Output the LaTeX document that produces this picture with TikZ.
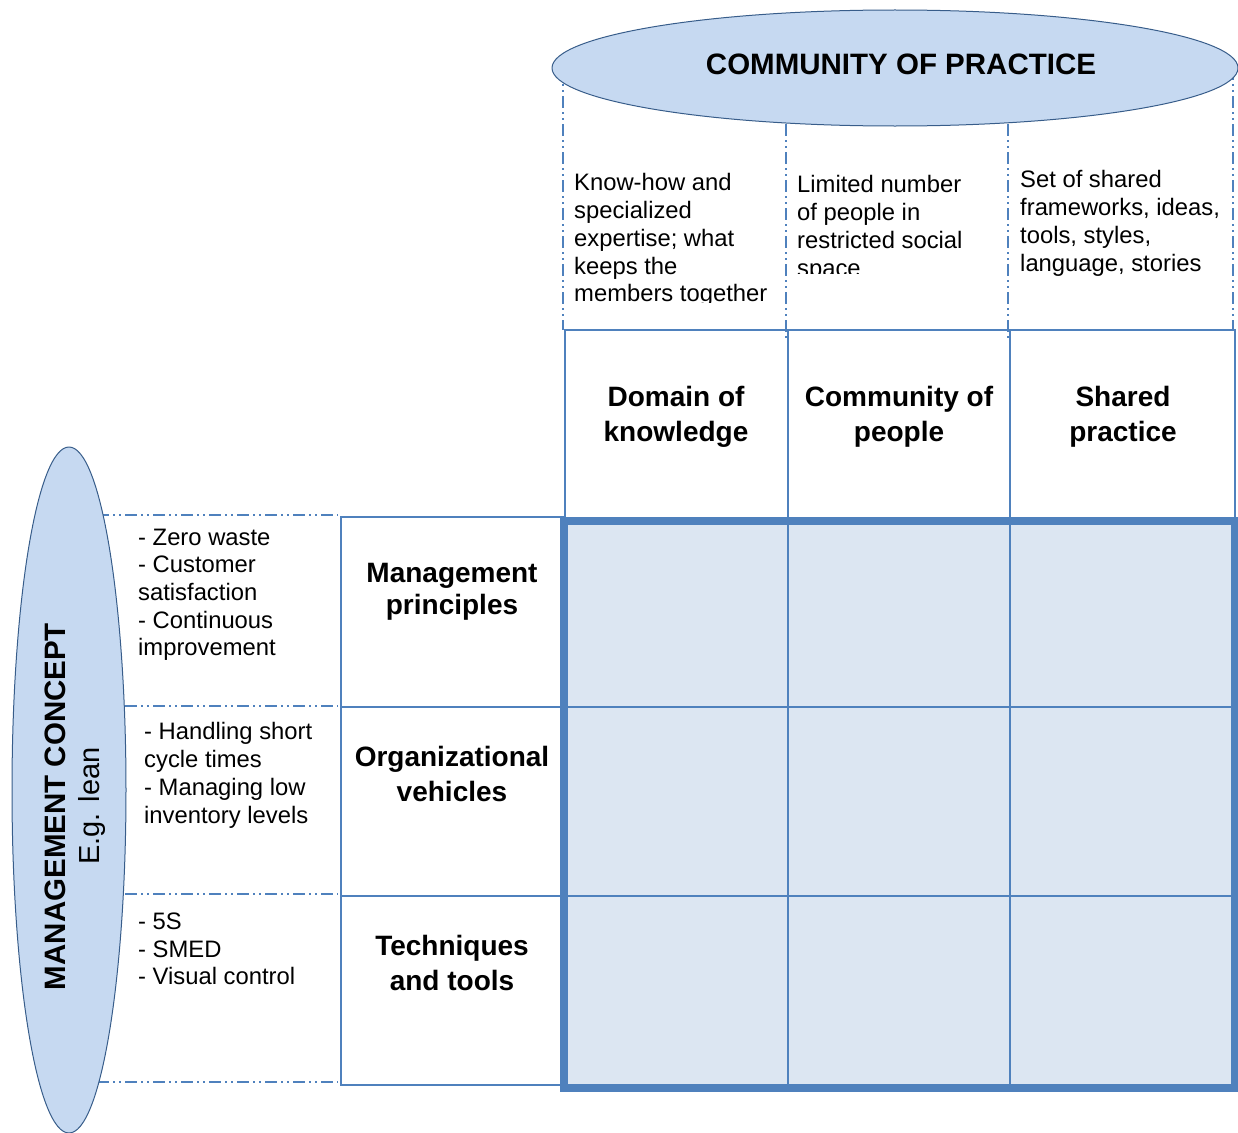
\documentclass[tikz,border=0pt]{standalone}
\usepackage{fontspec}
\setmainfont{Liberation Sans}
\usetikzlibrary{shapes.geometric}

\definecolor{lineblue}{HTML}{4F81BD}
\definecolor{ovalfill}{HTML}{C6D9F1}
\definecolor{ovaledge}{HTML}{385D8A}
\definecolor{cellfill}{HTML}{DCE6F2}

\tikzset{
  oval/.style={draw=ovaledge, line width=1pt, fill=ovalfill, shape=ellipse, inner sep=0pt},
  guide/.style={draw=lineblue, line width=2pt,
    dash pattern=on 12pt off 4pt on 2pt off 4pt on 2pt off 4pt},
  frame/.style={draw=lineblue, line width=1.8pt},
  note/.style={inner sep=0pt, align=left, anchor=north west,
    font=\fontsize{23.8}{27.7}\selectfont},
  head/.style={inner sep=0pt, align=center, anchor=north,
    font=\bfseries\fontsize{28}{35}\selectfont},
  title/.style={inner sep=0pt, font=\bfseries\fontsize{29.5}{35}\selectfont},
}

\begin{document}
\begin{tikzpicture}[x=1pt,y=-1pt]
\clip (0,0) rectangle (1238,1132);

% guide lines running out of the two ovals (drawn first, ovals cover their ends)
\draw[guide] (563,68) -- (563,330);
\draw[guide] (786,68) -- (786,340);
\draw[guide] (1008,68) -- (1008,340);
\draw[guide] (1233,68) -- (1233,330);
\draw[guide] (69,515) -- (338,515);
\draw[guide] (69,706) -- (338,706);
\draw[guide] (69,894) -- (338,894);
\draw[guide] (69,1082) -- (338,1082);

% ovals
\node[oval, minimum width=686pt, minimum height=116pt] (cop) at (895,68) {};
\node[title] (coptitle) at (901,64) {COMMUNITY OF PRACTICE};
\node[oval, minimum width=114pt, minimum height=686pt] (mc) at (69,790) {};
\node[title, rotate=90, anchor=base] (mctitle) at (65,806.5) {MANAGEMENT CONCEPT};
\node[inner sep=0pt, rotate=90, anchor=base, font=\fontsize{29}{35}\selectfont]
  (mcsub) at (99,806) {E.g. lean};

% column descriptions
\begin{scope}
\clip (560,150) rectangle (785,302.5);
\node[note] (d1) at (574,173.5) {Know-how and\\specialized\\expertise; what\\keeps the\\members together};
\end{scope}
\begin{scope}
\clip (790,150) rectangle (1005,273);
\node[note] (d2) at (797,175.5) {Limited number\\of people in\\restricted social\\space};
\end{scope}
\node[note] (d3) at (1020,170.5) {Set of shared\\frameworks, ideas,\\tools, styles,\\language, stories};

% column headers
\draw[frame] (565,330) rectangle (1235,519);
\draw[frame] (788,330) -- (788,519);
\draw[frame] (1010,330) -- (1010,519);
\node[head] (h1) at (676,386) {Domain of\\knowledge};
\node[head] (h2) at (899,386) {Community of\\people};
\node[head] (h3) at (1123,386) {Shared\\practice};

% row headers
\draw[frame] (341,517) rectangle (563,1085);
\draw[frame] (341,707) -- (563,707);
\draw[frame] (341,896) -- (563,896);
\node[head, font=\bfseries\fontsize{28}{32}\selectfont] (r1) at (452,563) {Management\\principles};
\node[head] (r2) at (452,746) {Organizational\\vehicles};
\node[head] (r3) at (452,935) {Techniques\\and tools};

% row descriptions
\node[note] (e1) at (138,528.5) {- Zero waste\\- Customer\\satisfaction\\- Continuous\\improvement};
\node[note] (e2) at (144,722.5) {- Handling short\\cycle times\\- Managing low\\inventory levels};
\node[note] (e3) at (138,912.5) {- 5S\\- SMED\\- Visual control};

% central grid
\fill[cellfill] (564,521) rectangle (1234.5,1088);
\draw[frame] (788,521) -- (788,1088);
\draw[frame] (1010,521) -- (1010,1088);
\draw[frame] (564,707) -- (1234.5,707);
\draw[frame] (564,896) -- (1234.5,896);
\draw[draw=lineblue, line width=8pt] (564,521) rectangle (1234.5,1088);
\end{tikzpicture}
\end{document}
